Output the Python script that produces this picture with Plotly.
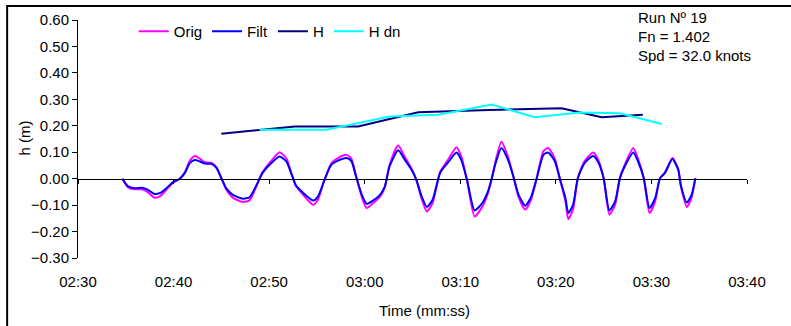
import plotly.graph_objects as go

# time in seconds (02:30 = 150 s)
t_wave = [154.65, 155.24, 155.94, 156.64, 157.2, 158.03, 158.6, 159.25, 159.95, 160.65,
          161.17, 161.7, 162.22, 162.75, 163.27, 163.97, 164.5, 165.0, 165.5, 166.2,
          167.25, 167.95, 168.7, 169.3, 170.4, 171.1, 171.8, 172.3, 172.8, 173.3,
          173.9, 174.6, 175.1, 175.8, 176.5, 177.2, 178.1, 178.6, 179.1, 179.7,
          180.2, 180.9, 181.6, 182.1, 182.6, 183.5, 184.2, 184.9, 185.4, 185.9,
          186.5, 187.1, 187.9, 188.8, 189.6, 190.1, 190.7, 191.5, 192.3, 192.9,
          193.3, 193.7, 194.3, 195.0, 195.6, 196.1, 196.8, 197.4, 198.0, 198.7,
          199.2, 199.9, 200.4, 201.0, 201.3, 201.8, 202.3, 203.0, 203.9, 204.4,
          205.0, 205.6, 206.2, 206.7, 207.2, 208.1, 208.6, 209.2, 209.8, 210.4,
          210.9, 211.4, 212.2, 212.8, 213.1, 213.7, 214.2, 214.6]

filt = [0.000, -0.029, -0.036, -0.034, -0.040, -0.058, -0.054, -0.036, -0.013, 0.000,
        0.021, 0.059, 0.071, 0.065, 0.057, 0.056, 0.040, 0.002, -0.036, -0.061,
        -0.076, -0.070, -0.023, 0.021, 0.065, 0.084, 0.065, 0.021, -0.025, -0.045,
        -0.065, -0.083, -0.068, -0.004, 0.052, 0.068, 0.078, 0.066, 0.008, -0.061,
        -0.095, -0.082, -0.061, -0.030, 0.046, 0.107, 0.071, 0.034, -0.004, -0.061,
        -0.107, -0.080, 0.023, 0.065, 0.099, 0.071, -0.004, -0.120, -0.092, -0.048,
        0.002, 0.059, 0.116, 0.071, 0.002, -0.061, -0.102, -0.070, 0.002, 0.090,
        0.099, 0.065, 0.002, -0.073, -0.130, -0.099, 0.002, 0.059, 0.086, 0.065,
        0.002, -0.120, -0.086, 0.002, 0.046, 0.099, 0.065, 0.002, -0.111, -0.073,
        0.002, 0.021, 0.074, 0.034, -0.029, -0.090, -0.061, 0.002]

orig = [0.000, -0.033, -0.040, -0.040, -0.048, -0.072, -0.066, -0.042, -0.015, 0.000,
        0.024, 0.068, 0.086, 0.076, 0.062, 0.060, 0.043, 0.002, -0.040, -0.072,
        -0.088, -0.082, -0.026, 0.024, 0.075, 0.100, 0.077, 0.024, -0.028, -0.050,
        -0.075, -0.099, -0.080, -0.004, 0.058, 0.078, 0.090, 0.076, 0.009, -0.070,
        -0.111, -0.092, -0.068, -0.033, 0.052, 0.125, 0.082, 0.038, -0.004, -0.070,
        -0.124, -0.092, 0.026, 0.076, 0.119, 0.084, -0.005, -0.143, -0.106, -0.054,
        0.002, 0.068, 0.140, 0.082, 0.002, -0.070, -0.117, -0.080, 0.002, 0.104,
        0.116, 0.075, 0.002, -0.085, -0.153, -0.115, 0.002, 0.066, 0.099, 0.074,
        0.002, -0.136, -0.098, 0.002, 0.052, 0.116, 0.075, 0.002, -0.130, -0.084,
        0.002, 0.023, 0.078, 0.036, -0.032, -0.107, -0.072, 0.002]

t_h = [165.0, 172.7, 179.3, 185.6, 193.0, 200.6, 204.8, 209.1]
h_vals = [0.170, 0.197, 0.197, 0.251, 0.260, 0.266, 0.232, 0.242]

t_hdn = [169.0, 176.0, 182.6, 187.7, 193.3, 197.8, 202.5, 206.7, 211.1]
hdn_vals = [0.185, 0.185, 0.235, 0.242, 0.280, 0.232, 0.250, 0.247, 0.207]

tick_vals = [150, 160, 170, 180, 190, 200, 210, 220]
tick_text = ["02:30", "02:40", "02:50", "03:00", "03:10", "03:20", "03:30", "03:40"]

info_lines = ["Run Nº 19", "Fn = 1.402", "Spd = 32.0 knots"]

FONT = "Liberation Sans, Arial, sans-serif"

L, T, W, H = 78.3, 20.0, 668.4, 238.3  # plot area in pixels


def px_x(px):
    return (px - L) / W


def px_y(py):
    return (T + H - py) / H


fig = go.Figure()
fig.add_trace(go.Scatter(x=t_wave, y=orig, name="Orig", mode="lines",
                         line=dict(color="#FF00FF", width=2, shape="spline", smoothing=0.6)))
fig.add_trace(go.Scatter(x=t_wave, y=filt, name="Filt", mode="lines",
                         line=dict(color="#0000FF", width=2, shape="spline", smoothing=0.6)))
fig.add_trace(go.Scatter(x=t_h, y=h_vals, name="H", mode="lines",
                         line=dict(color="#000080", width=2)))
fig.add_trace(go.Scatter(x=t_hdn, y=hdn_vals, name="H dn", mode="lines", xaxis="x2",
                         line=dict(color="#00FFFF", width=2)))

y_min, y_max = -0.3, 0.6
zero_pos = (0 - y_min) / (y_max - y_min)

fig.update_layout(
    width=791, height=326,
    margin=dict(l=L, r=791 - L - W, t=T, b=326 - T - H, autoexpand=False),
    paper_bgcolor="white", plot_bgcolor="white",
    font=dict(family=FONT, size=15, color="black"),
    showlegend=True,
    legend=dict(orientation="h", x=px_x(134), y=px_y(15), yanchor="top",
                xanchor="left", font=dict(size=15), bgcolor="rgba(0,0,0,0)",
                traceorder="normal", itemwidth=30),
    xaxis=dict(range=[150, 220], tickvals=tick_vals, ticktext=tick_text,
               showgrid=False, zeroline=False, showline=False, ticks="",
               ticklabelstandoff=13, automargin=False),
    xaxis2=dict(overlaying="x", matches="x", anchor="free", position=zero_pos,
                tickvals=tick_vals, showticklabels=False, ticks="outside", ticklen=4,
                tickcolor="black", showline=True, linecolor="black", linewidth=1,
                showgrid=False, zeroline=False, automargin=False),
    yaxis=dict(range=[y_min, y_max], dtick=0.1, tickformat=".2f", showgrid=False,
               zeroline=False, showline=True, linecolor="black", linewidth=1,
               ticks="outside", ticklen=5, tickcolor="black", automargin=False),
)

for i, line in enumerate(info_lines):
    fig.add_annotation(text=line, xref="paper", yref="paper", x=px_x(636),
                       y=px_y(17 + 19.5 * i), xanchor="left",
                       yanchor="middle", showarrow=False, font=dict(size=15))

fig.add_annotation(text="Time (mm:ss)", xref="paper", yref="paper",
                   x=px_x(424), y=px_y(311),
                   xanchor="center", yanchor="middle", showarrow=False,
                   font=dict(size=15))

fig.add_annotation(text="h (m)", xref="paper", yref="paper", textangle=-90,
                   x=px_x(25), y=px_y(138),
                   xanchor="center", yanchor="middle", showarrow=False,
                   font=dict(size=15))

# chart-area border (only top and left edges are inside the picture)
fig.add_shape(type="path", xref="paper", yref="paper",
              path="M {:.5f},{:.5f} L {:.5f},{:.5f} L {:.5f},{:.5f}".format(
                  px_x(7.5), px_y(340), px_x(7.5), px_y(6), px_x(800), px_y(6)),
              line=dict(color="black", width=2))

fig.write_html("out.html", config={"displayModeBar": False},
               post_script="document.body.style.margin='0';document.body.style.overflow='hidden';")
